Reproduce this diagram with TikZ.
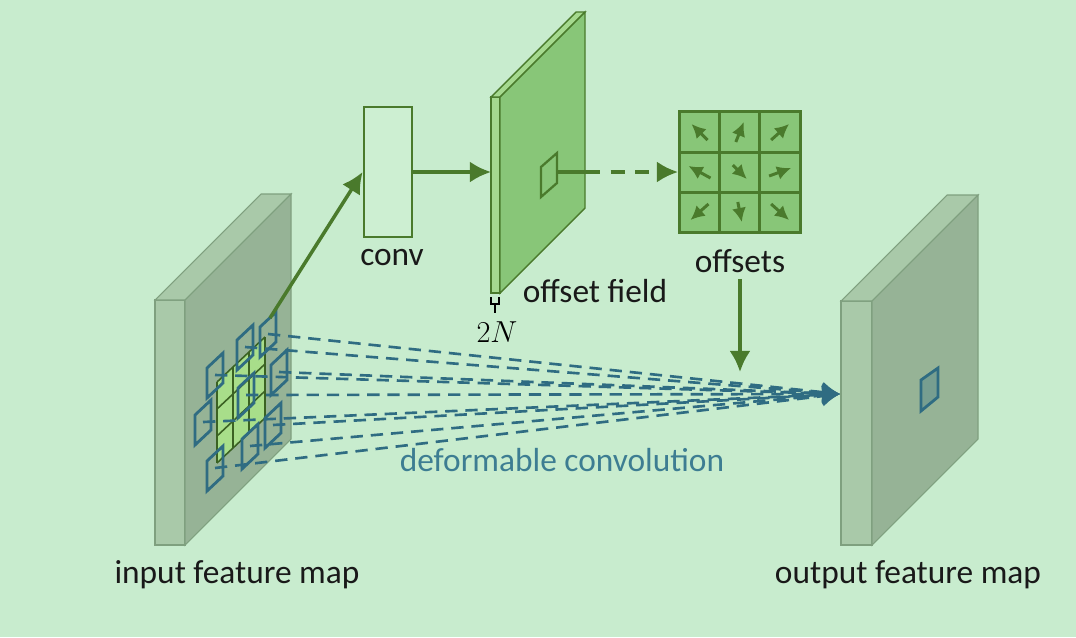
\documentclass[tikz,border=0pt]{standalone}
\usepackage{fontspec}
\setmainfont{Carlito}
\usetikzlibrary{arrows.meta}
\definecolor{bgc}{HTML}{C8ECCE}
\definecolor{mapstrip}{HTML}{A9C9A9}
\definecolor{mapface}{HTML}{96B396}
\definecolor{mapline}{HTML}{7FA07F}
\definecolor{fieldstrip}{HTML}{A5D98F}
\definecolor{fieldface}{HTML}{88C678}
\definecolor{darkgreen}{HTML}{4A7A2C}
\definecolor{sampblue}{HTML}{2F6C82}
\definecolor{textblue}{HTML}{3D7D92}
\definecolor{kernelc}{HTML}{A8DE8A}
\definecolor{convc}{HTML}{CDEFD2}
% slab: x, y, strip width, height, depth, strip style, face style
\newcommand{\slab}[7]{%
  \filldraw[#6] (#1,#2) rectangle ++(#3,#4);
  \filldraw[#6] (#1,#2) -- ++(#3,0) -- ++(#5,-#5) -- ++(-#3,0) -- cycle;
  \filldraw[#7] (#1+#3,#2) -- ++(#5,-#5) -- ++(0,#4) -- ++(-#5,#5) -- cycle;
}
\begin{document}
\begin{tikzpicture}[x=0.02cm,y=-0.02cm,
  lbl/.style={font=\fontsize{19}{22}\selectfont,text=black!90},
  mapS/.style={fill=mapstrip,draw=mapline,line width=0.6pt},
  mapF/.style={fill=mapface,draw=mapline,line width=0.6pt},
  fieldS/.style={fill=fieldstrip,draw=darkgreen,line width=0.8pt},
  fieldF/.style={fill=fieldface,draw=darkgreen,line width=0.8pt},
  arr/.style={draw=darkgreen,line width=2pt,-{Latex[length=12pt,width=12pt]}},
  samp/.style={draw=sampblue,line width=1.6pt},
  link/.style={draw=sampblue,line width=1.5pt,dash pattern=on 7pt off 4.5pt,
    -{Latex[length=10pt,width=12pt]}}]
\useasboundingbox[fill=bgc] (0,0) rectangle (1076,637);

% feature maps and offset field
\slab{155}{300}{30}{245}{106}{mapS}{mapF}
\slab{841}{301}{31}{244}{106}{mapS}{mapF}
\slab{491}{97}{9}{196}{85}{fieldS}{fieldF}

% regular 3x3 grid on the input
\fill[kernelc] (217,382) -- (265,337) -- (265,418) -- (217,463) -- cycle;
\foreach \k in {0,...,3} {
  \draw[darkgreen!80!black,line width=0.9pt] (217+16*\k,382-15*\k) -- ++(0,81);
  \draw[darkgreen!80!black,line width=0.9pt] (217,382+27*\k) -- ++(48,-45);
}

% deformed sampling locations
\coordinate (tgt) at (840,394);
\foreach \x/\y [count=\i] in {215/375,245/347,268/334,203/422,246/395,
    279/372,215/468,250/446,273/425} {
  \coordinate (s\i) at (\x,\y);
  \draw[samp] (\x-8,\y-7) -- ++(16,-15) -- ++(0,30) -- ++(-16,15) -- cycle;
}
\foreach \i in {1,...,9}
  \draw[link] (s\i) -- (tgt);

% output location
\draw[samp,fill=sampblue!30!mapface] (921,380) -- (938,368) -- (938,397) -- (921,411) -- cycle;

% conv
\node[draw=darkgreen,line width=1.6pt,fill=convc,minimum width=0.96cm,
  minimum height=2.6cm] (conv) at (388,172) {};
\node[lbl] (convlbl) at (392,258) {conv};
\coordinate (kern) at (270,318);
\draw[arr] (kern) -- (conv.west);
\coordinate (fin) at (491,172);
\draw[arr] (conv.east) -- (fin);

% offset field
\draw[darkgreen,line width=1.3pt] (541,167) -- (557,153) -- (557,183) -- (541,197) -- cycle;
\coordinate (fsq) at (557,172);
\coordinate (fedge) at (586,172);
\node[lbl] (fieldlbl) at (595,291) {offset field};
\draw[black,line width=0.7pt] (491,297) -- (491,304) -- (499,304) -- (499,297);
\draw[black,line width=0.7pt] (495,304) -- (495,313);
\node[font=\fontsize{19}{22}\selectfont] (nlbl) at (497,332) {$2N$};

% offsets
\node[draw=darkgreen,line width=1.7pt,fill=fieldface,minimum size=2.42cm,
  inner sep=0pt] (offs) at (740,172) {};
\foreach \k in {1,2} {
  \draw[darkgreen,line width=1.7pt] (679+40.3*\k,112) -- ++(0,120);
  \draw[darkgreen,line width=1.7pt] (679,112+40*\k) -- ++(121,0);
}
\foreach \c/\r/\dx/\dy in {0/0/-8/-8, 1/0/4/-10, 2/0/9/-8,
    0/1/-11/-6, 1/1/7/7, 2/1/11/-4,
    0/2/-9/8, 1/2/2/10, 2/2/9/8}
  \draw[darkgreen,line width=1.7pt,-{Latex[length=8pt,width=8pt]}]
    (699.5+40.3*\c-\dx,132+40*\r-\dy) -- ++(2*\dx,2*\dy);
\node[lbl] (offlbl) at (740,261) {offsets};
\draw[darkgreen,line width=2pt] (fsq) -- (fedge);
\draw[arr,dash pattern=on 8pt off 6pt] (fedge) -- (offs.west);
\coordinate (dn) at (740,372);
\draw[arr] (offlbl) -- (dn);

% labels
\node[lbl,text=textblue] (deflbl) at (562,460) {deformable convolution};
\node[lbl] (inlbl) at (237,575) {input feature map};
\node[lbl] (outlbl) at (908,575) {output feature map};
\end{tikzpicture}
\end{document}
